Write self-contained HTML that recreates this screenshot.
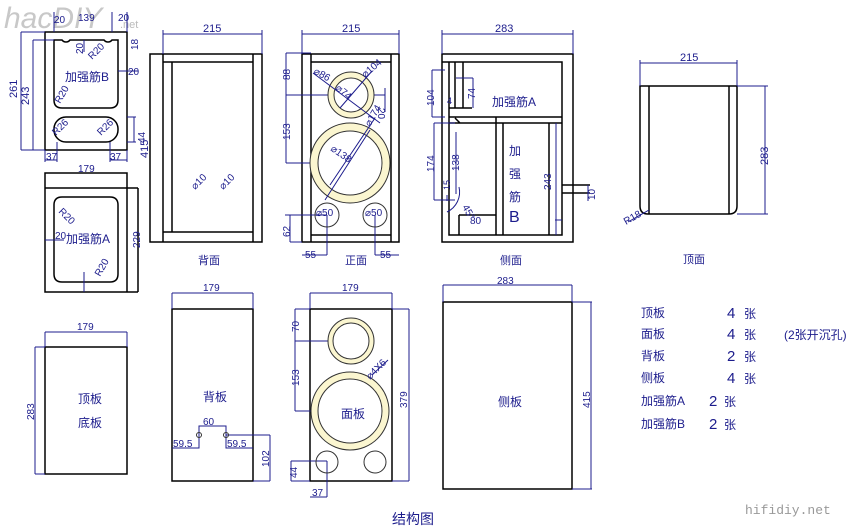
<!DOCTYPE html>
<html><head><meta charset="utf-8"><style>
html,body{margin:0;padding:0;background:#fff;}
svg{display:block;}
text{font-family:"Liberation Sans","Noto Sans CJK SC",sans-serif;fill:#1c1c8c;}
.d{stroke:#1c1c8c;stroke-width:1;fill:none;}
.k{stroke:#000;stroke-width:1.5;fill:none;}
.r{fill:#fbf6d0;stroke:#333;stroke-width:1;}
</style></head><body>
<svg width="856" height="532" viewBox="0 0 856 532" xmlns="http://www.w3.org/2000/svg">
<!-- watermark -->
<text x="4" y="28" font-size="30" style="fill:#c8c8c8;font-family:'Liberation Sans',sans-serif" font-style="italic">hacDIY</text>
<text x="120" y="28" font-size="11" style="fill:#bbb">.net</text>

<!-- 加强筋B -->
<rect class="k" x="45" y="32" width="82" height="118"/>
<path class="k" d="M54 40 H62 A5 5 0 0 0 70 40 H104 A5 5 0 0 0 112 40 H118 V100 Q118 108 110 108 H62 Q54 108 54 100 Z"/>
<rect class="k" x="54" y="117" width="64" height="25" rx="12"/>
<path class="d" d="M21 32 V150 M33 40 V150 M21 32 H45 M21 150 H45 M33 40 H54 M45 150 V162 M57 142 V162 M45 160 H57 M110 142 V162 M127 150 V162 M110 160 H127 M127 117 H136 M127 142 H136 M134 117 V142 M118 71 H138 M54 12 V32 M112 12 V32 M127 12 V32 M84 40 V52"/>
<text x="17" y="98" font-size="11" transform="rotate(-90 17 98)">261</text>
<text x="29" y="105" font-size="11" transform="rotate(-90 29 105)">243</text>
<text x="54" y="23" font-size="10">20</text><text x="78" y="21" font-size="10">139</text><text x="118" y="21" font-size="10">20</text>
<text x="138" y="50" font-size="10" transform="rotate(-90 138 50)">18</text>
<text x="128" y="75" font-size="10">20</text>
<text x="83" y="54" font-size="10" transform="rotate(-90 83 54)">20</text>
<text x="92" y="60" font-size="10" transform="rotate(-45 92 60)">R20</text>
<text x="60" y="104" font-size="10" transform="rotate(-60 60 104)">R20</text>
<text x="56" y="136" font-size="10" transform="rotate(-45 56 136)">R26</text>
<text x="101" y="136" font-size="10" transform="rotate(-45 101 136)">R26</text>
<text x="145" y="143" font-size="10" transform="rotate(-90 145 143)">44</text>
<text x="46" y="160" font-size="10">37</text><text x="110" y="160" font-size="10">37</text>
<text x="65" y="81" font-size="12">加强筋B</text>

<!-- 加强筋A -->
<path class="k" d="M45 173 H127 V292 H45 Z M45 188 H138 M138 188 V292 M127 292 H138"/>
<path class="k" d="M62 197 H110 Q118 197 118 205 V274 Q118 282 110 282 H62 Q54 282 54 274 V205 Q54 197 62 197 Z"/>
<path class="d" d="M45 240 H64 M84 272 V292"/>
<text x="78" y="172" font-size="10">179</text>
<text x="58" y="212" font-size="10" transform="rotate(45 58 212)">R20</text>
<text x="55" y="239" font-size="10">20</text>
<text x="66" y="243" font-size="12">加强筋A</text>
<text x="100" y="277" font-size="10" transform="rotate(-60 100 277)">R20</text>
<text x="140" y="248" font-size="10" transform="rotate(-90 140 248)">229</text>

<!-- 背面 -->
<rect class="k" x="150" y="54" width="112" height="188"/>
<path class="k" d="M163 54 V242 M253 54 V242 M172 62 V232 M163 62 H253 M163 232 H253"/>
<path class="d" d="M163 34 H262 M163 30 V54 M262 30 V54"/>
<text x="203" y="32" font-size="11">215</text>
<text x="148" y="158" font-size="11" transform="rotate(-90 148 158)">415</text>
<text x="195" y="190" font-size="10" transform="rotate(-45 195 190)">⌀10</text>
<text x="223" y="190" font-size="10" transform="rotate(-45 223 190)">⌀10</text>
<text x="198" y="264" font-size="11">背面</text>

<!-- 正面 -->
<rect class="k" x="302" y="54" width="97" height="188"/>
<path class="k" d="M311 54 V242 M391 54 V242 M311 62 H391 M311 235 H391"/>
<path class="d" d="M302 34 H399 M302 30 V54 M399 30 V54 M286 53 H311 M286 95 H351 M286 163 H350 M286 53 V163 M285 215 H327 M290 215 V242 M290 242 H302 M327 215 V255 M375 215 V255 M302 255 H327 M375 255 H399 M366 95 H385 M385 88 V112"/>
<circle class="r" cx="351" cy="95" r="23"/><circle cx="351" cy="95" r="17" fill="#fff" stroke="#333"/>
<circle class="r" cx="350" cy="163" r="40"/><circle cx="350" cy="163" r="32" fill="#fff" stroke="#333"/>
<circle cx="327" cy="215" r="12" fill="none" stroke="#333"/><circle cx="375" cy="215" r="12" fill="none" stroke="#333"/>
<path class="d" d="M313 73 L380 123 M330 185 L375 118 M370 130 L325 200 M372 71 L340 108"/>
<text x="342" y="32" font-size="11">215</text>
<text x="290" y="80" font-size="10" transform="rotate(-90 290 80)">88</text>
<text x="290" y="140" font-size="10" transform="rotate(-90 290 140)">153</text>
<text x="290" y="237" font-size="10" transform="rotate(-90 290 237)">62</text>
<text x="313" y="73" font-size="10" transform="rotate(30 313 73)">⌀86</text>
<text x="365" y="78" font-size="10" transform="rotate(-40 365 78)">⌀104</text>
<text x="335" y="89" font-size="10" transform="rotate(40 335 89)">⌀74</text>
<text x="378" y="108" font-size="10" transform="rotate(90 378 108)">20</text>
<text x="370" y="127" font-size="10" transform="rotate(-60 370 127)">⌀174</text>
<text x="330" y="150" font-size="10" transform="rotate(35 330 150)">⌀138</text>
<text x="316" y="216" font-size="10">⌀50</text><text x="365" y="216" font-size="10">⌀50</text>
<text x="305" y="258" font-size="10">55</text><text x="380" y="258" font-size="10">55</text>
<text x="345" y="264" font-size="11">正面</text>

<!-- 侧面 -->
<rect class="k" x="442" y="54" width="131" height="188"/>
<path class="k" d="M442 62 H562 V235 H449 V62 M449 62 V235 M455 62 V108 M463 62 V108 M449 117 H562 M449 123 H562 M496 117 V235 M503 123 V235 M549 123 V235 M459 215 V235 M459 215 H496 M562 185 H590 M562 193 H590 M449 108 L472 108 M455 118 L460 123"/>
<path class="d" d="M442 34 H573 M442 30 V54 M573 30 V54 M432 70 H445 M432 117 H445 M432 70 V117 M456 78 H473 M473 78 V108 M434 123 H455 M434 200 H455 M434 123 V200 M456 132 V194 M447 195 V201 M588 185 V201 M562 220 H555 M556 123 V235"/>
<path class="d" d="M459 187 A22 22 0 0 1 447 212"/>
<text x="495" y="32" font-size="11">283</text>
<text x="434" y="106" font-size="10" transform="rotate(-90 434 106)">104</text>
<text x="447" y="104" font-size="9">4</text>
<text x="475" y="99" font-size="10" transform="rotate(-90 475 99)">74</text>
<text x="492" y="106" font-size="12">加强筋A</text>
<text x="434" y="172" font-size="10" transform="rotate(-90 434 172)">174</text>
<text x="459" y="171" font-size="10" transform="rotate(-90 459 171)">138</text>
<text x="450" y="190" font-size="9" transform="rotate(-90 450 190)">15</text>
<text x="462" y="207" font-size="10" transform="rotate(60 462 207)">45°</text>
<text x="470" y="224" font-size="10">80</text>
<text x="509" y="155" font-size="12">加</text><text x="509" y="178" font-size="12">强</text><text x="509" y="201" font-size="12">筋</text>
<text x="509" y="222" font-size="16">B</text>
<text x="551" y="190" font-size="10" transform="rotate(-90 551 190)">243</text>
<text x="595" y="200" font-size="10" transform="rotate(-90 595 200)">10</text>
<text x="500" y="264" font-size="11">侧面</text>

<!-- 顶面 -->
<path class="k" d="M640 86 H737 V206 Q737 214 729 214 H648 Q640 214 640 206 Z M649 86 V214 M729 86 V214"/>
<path class="d" d="M640 63 H737 M640 60 V86 M737 60 V86 M737 86 H768 M737 214 H768 M765 86 V214 M628 222 L649 210"/>
<text x="680" y="61" font-size="11">215</text>
<text x="768" y="165" font-size="11" transform="rotate(-90 768 165)">283</text>
<text x="626" y="225" font-size="10" transform="rotate(-30 626 225)">R18</text>
<text x="683" y="263" font-size="11">顶面</text>

<!-- 顶板底板 -->
<rect class="k" x="45" y="347" width="82" height="127"/>
<path class="d" d="M45 332 H127 M45 332 V347 M127 332 V347 M35 347 H45 M35 474 H45 M35 347 V474"/>
<text x="77" y="330" font-size="10">179</text>
<text x="34" y="420" font-size="10" transform="rotate(-90 34 420)">283</text>
<text x="78" y="403" font-size="12">顶板</text><text x="78" y="427" font-size="12">底板</text>

<!-- 背板 -->
<rect class="k" x="172" y="309" width="81" height="172"/>
<path class="d" d="M172 293 H253 M172 293 V309 M253 293 V309 M172 448 H199 V426 H226 V448 H253 M226 435 H270 M253 481 H270 M270 435 V481"/>
<circle cx="199" cy="435" r="2.5" fill="none" stroke="#333"/><circle cx="226" cy="435" r="2.5" fill="none" stroke="#333"/>
<text x="203" y="291" font-size="10">179</text>
<text x="203" y="425" font-size="10">60</text>
<text x="173" y="447" font-size="10">59.5</text><text x="227" y="447" font-size="10">59.5</text>
<text x="269" y="467" font-size="10" transform="rotate(-90 269 467)">102</text>
<text x="203" y="401" font-size="12">背板</text>

<!-- 面板 -->
<rect class="k" x="310" y="309" width="82" height="172"/>
<path class="d" d="M310 293 H392 M310 293 V309 M392 293 V309 M295 309 H310 M392 309 H409 M392 481 H409 M409 309 V481 M295 341 H351 M295 411 H351 M295 309 V411 M291 461 H327 M291 481 H310 M291 461 V481 M327 461 V497 M310 497 H327 M372 375 L388 360"/>
<circle class="r" cx="351" cy="341" r="23"/><circle cx="351" cy="341" r="18" fill="#fff" stroke="#333"/>
<circle class="r" cx="350" cy="411" r="39"/><circle cx="350" cy="411" r="32" fill="#fff" stroke="#333"/>
<circle cx="327" cy="462" r="11" fill="none" stroke="#333"/><circle cx="375" cy="462" r="11" fill="none" stroke="#333"/>
<text x="342" y="291" font-size="10">179</text>
<text x="299" y="332" font-size="10" transform="rotate(-90 299 332)">70</text>
<text x="299" y="386" font-size="10" transform="rotate(-90 299 386)">153</text>
<text x="407" y="408" font-size="10" transform="rotate(-90 407 408)">379</text>
<text x="297" y="478" font-size="10" transform="rotate(-90 297 478)">44</text>
<text x="312" y="496" font-size="10">37</text>
<text x="370" y="380" font-size="10" transform="rotate(-45 370 380)">⌀4X6</text>
<text x="341" y="418" font-size="12">面板</text>

<!-- 侧板 -->
<rect class="k" x="443" y="302" width="129" height="187"/>
<path class="d" d="M443 285 H572 M443 285 V302 M572 285 V302 M572 302 H592 M572 489 H592 M591 302 V489"/>
<text x="497" y="284" font-size="10">283</text>
<text x="590" y="408" font-size="10" transform="rotate(-90 590 408)">415</text>
<text x="498" y="406" font-size="12">侧板</text>

<!-- list -->
<g font-size="12">
<text x="641" y="317">顶板</text><text x="727" y="318" font-size="15">4</text><text x="744" y="318">张</text>
<text x="641" y="338">面板</text><text x="727" y="339" font-size="15">4</text><text x="744" y="339">张</text><text x="784" y="339">(2张开沉孔)</text>
<text x="641" y="360">背板</text><text x="727" y="361" font-size="15">2</text><text x="744" y="361">张</text>
<text x="641" y="382">侧板</text><text x="727" y="383" font-size="15">4</text><text x="744" y="383">张</text>
<text x="641" y="405">加强筋A</text><text x="709" y="406" font-size="15">2</text><text x="724" y="406">张</text>
<text x="641" y="428">加强筋B</text><text x="709" y="429" font-size="15">2</text><text x="724" y="429">张</text>
</g>
<text x="392" y="524" font-size="14">结构图</text>
<text x="745" y="514" font-size="13" style="fill:#999;font-family:'Liberation Mono',monospace">hifidiy.net</text>
</svg>
</body></html>
